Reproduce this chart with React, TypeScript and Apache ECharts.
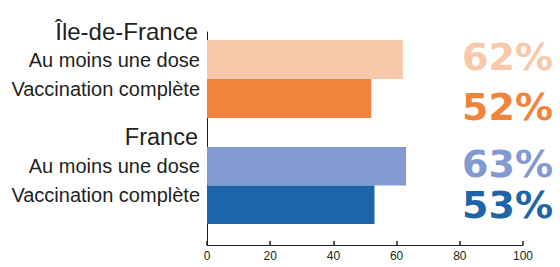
import React, { useEffect, useRef } from "react";
import * as echarts from "echarts";

const groups = ["Île-de-France", "France"];
const categories = ["Au moins une dose", "Vaccination complète"];
const idfValues = [62, 52];
const franceValues = [63, 53];
const xMin = 0;
const xMax = 100;
const xInterval = 20;

const idfColors = ["#f7c8a9", "#f1843c"];
const franceColors = ["#8399d1", "#1e64a8"];
const textColor = "#231f20";
const labelFont = '"Liberation Sans", Arial, sans-serif';
const pctFont = '"DejaVu Sans", sans-serif';

const leftLabelShift = [{}, { verticalAlign: "bottom" }];

function leftData() {
  return categories.map((c, i) => ({ value: c, textStyle: leftLabelShift[i] }));
}

type Shift = { verticalAlign: string; lineHeight: number };

function rightData(colors: string[], shifts: Shift[]) {
  return categories.map((c, i) => ({
    value: c,
    textStyle: { color: colors[i], align: "right", ...shifts[i] },
  }));
}

export default function App() {
  const ref = useRef<HTMLDivElement>(null);
  useEffect(() => {
    if (!ref.current) return;
    const chart = echarts.init(ref.current, null, { renderer: "svg" });
    const pctAxis = (gridIndex: number, values: number[], colors: string[], shifts: Shift[]) => ({
      gridIndex,
      type: "category",
      position: "right",
      inverse: true,
      data: rightData(colors, shifts),
      axisLine: { show: false },
      axisTick: { show: false },
      splitLine: { show: false },
      axisLabel: {
        interval: 0,
        hideOverlap: false,
        align: "right",
        margin: 30,
        fontSize: 38,
        fontWeight: "bold",
        fontFamily: pctFont,
        formatter: (_v: string, i: number) => values[i] + "%",
      },
    });
    const catAxis = (gridIndex: number) => ({
      gridIndex,
      type: "category",
      inverse: true,
      data: leftData(),
      axisLine: { show: false },
      axisTick: { show: false },
      splitLine: { show: false },
      axisLabel: { interval: 0, margin: 7, fontSize: 20, color: textColor, fontFamily: labelFont },
    });
    const hiddenX = (gridIndex: number) => ({
      gridIndex,
      type: "value",
      min: xMin,
      max: xMax,
      show: false,
    });
    chart.setOption({
      animation: false,
      grid: [
        { left: 207, top: 32, width: 316, height: 213, outerBoundsMode: "none" },
        { left: 207, top: 40, width: 316, height: 78, outerBoundsMode: "none" },
        { left: 207, top: 147, width: 316, height: 77, outerBoundsMode: "none" },
      ],
      xAxis: [
        {
          gridIndex: 0,
          type: "value",
          min: xMin,
          max: xMax,
          interval: xInterval,
          axisLine: { show: true, lineStyle: { color: textColor, width: 1 } },
          axisTick: { show: true, inside: true, length: 4, lineStyle: { color: textColor, width: 1.5 } },
          axisLabel: { margin: 5, fontSize: 12, color: textColor, fontFamily: labelFont },
          splitLine: { show: false },
        },
        hiddenX(1),
        hiddenX(2),
      ],
      yAxis: [
        {
          gridIndex: 0,
          type: "value",
          min: 0,
          max: 1,
          axisLine: { show: true, lineStyle: { color: textColor, width: 1 } },
          axisTick: { show: false },
          axisLabel: { show: false },
          splitLine: { show: false },
        },
        catAxis(1),
        pctAxis(1, idfValues, idfColors, [
          { verticalAlign: "bottom", lineHeight: 6 },
          { verticalAlign: "top", lineHeight: 16 },
        ]),
        catAxis(2),
        pctAxis(2, franceValues, franceColors, [
          { verticalAlign: "bottom", lineHeight: 4 },
          { verticalAlign: "middle", lineHeight: 38 },
        ]),
      ],
      series: [
        {
          type: "bar",
          xAxisIndex: 1,
          yAxisIndex: 1,
          barWidth: "100%",
          data: idfValues.map((v, i) => ({ value: v, itemStyle: { color: idfColors[i] } })),
        },
        {
          type: "bar",
          xAxisIndex: 2,
          yAxisIndex: 3,
          barWidth: "100%",
          data: franceValues.map((v, i) => ({ value: v, itemStyle: { color: franceColors[i] } })),
        },
      ],
      graphic: [
        {
          type: "text",
          x: 198,
          y: 31,
          style: {
            text: groups[0],
            textAlign: "right",
            textVerticalAlign: "middle",
            fontSize: 24,
            fontFamily: labelFont,
            fill: textColor,
          },
        },
        {
          type: "text",
          x: 198,
          y: 137,
          style: {
            text: groups[1],
            textAlign: "right",
            textVerticalAlign: "middle",
            fontSize: 23.5,
            fontFamily: labelFont,
            fill: textColor,
          },
        },
      ],
    });
    return () => chart.dispose();
  }, []);
  return (
    <div
      ref={ref}
      style={{ position: "fixed", left: 0, top: 0, width: 560, height: 267, background: "#fff" }}
    />
  );
}
